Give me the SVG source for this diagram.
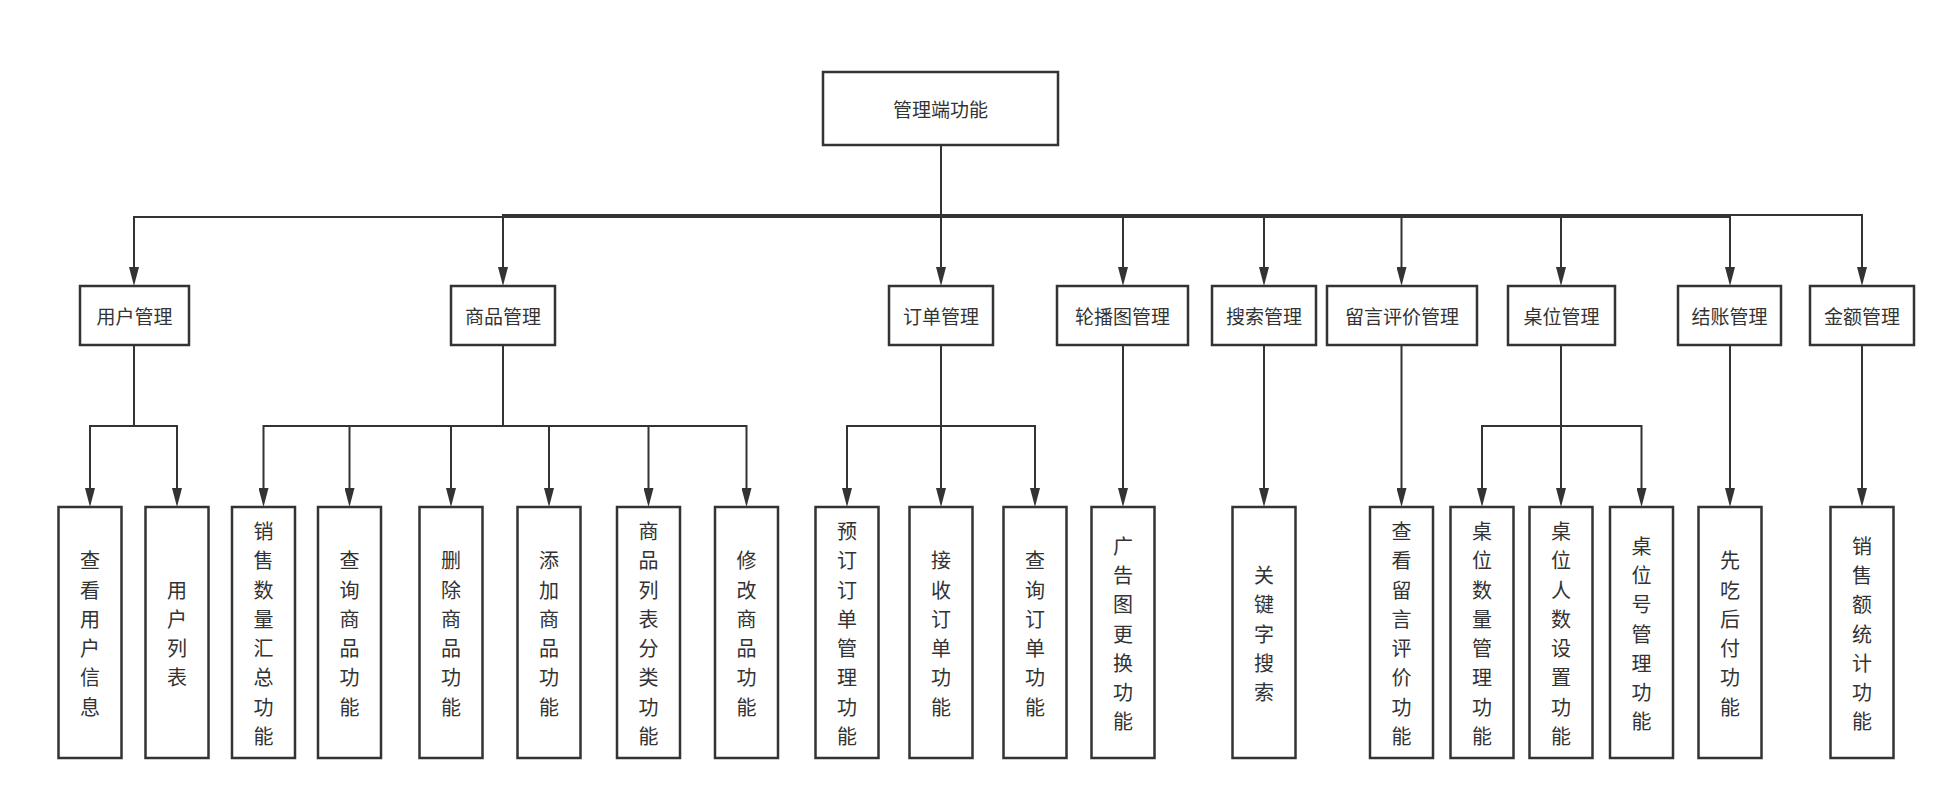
<svg xmlns="http://www.w3.org/2000/svg" width="1952" height="804" viewBox="0 0 1952 804">
<style>
.box{fill:#fff;stroke:#333;stroke-width:2.5}
.t{font-family:"Noto Sans CJK SC","Noto Sans",sans-serif;font-size:19px;fill:#333;text-anchor:middle;dominant-baseline:central}
.v{font-family:"Noto Sans CJK SC","Noto Sans",sans-serif;font-size:20px;fill:#333;text-anchor:middle;dominant-baseline:central}
.e{fill:none;stroke:#333;stroke-width:2}
</style>
<defs>
<marker id="ar" viewBox="0 0 19 10" refX="10" refY="5" markerWidth="19" markerHeight="10" markerUnits="userSpaceOnUse" orient="auto">
<path d="M0,0 L19,5 L0,10 z" fill="#333"/>
</marker>
</defs>
<rect width="1952" height="804" fill="#fff"/>
<g id="connectors" class="e" marker-end="url(#ar)">
<path class="e" marker-end="url(#ar)" d="M941,146 V217 H134 V277"/>
<path class="e" marker-end="url(#ar)" d="M941,146 V215 H503 V277"/>
<path class="e" marker-end="url(#ar)" d="M941,146 V277"/>
<path class="e" marker-end="url(#ar)" d="M941,146 V216 H1123 V277"/>
<path class="e" marker-end="url(#ar)" d="M941,146 V216 H1264 V277"/>
<path class="e" marker-end="url(#ar)" d="M941,146 V216 H1401.5 V277"/>
<path class="e" marker-end="url(#ar)" d="M941,146 V216 H1561 V277"/>
<path class="e" marker-end="url(#ar)" d="M941,146 V217 H1730 V277"/>
<path class="e" marker-end="url(#ar)" d="M941,146 V215 H1862 V277"/>
<path class="e" marker-end="url(#ar)" d="M134,345 V426 H90 V498"/>
<path class="e" marker-end="url(#ar)" d="M134,345 V426 H177 V498"/>
<path class="e" marker-end="url(#ar)" d="M503,345 V426 H263.5 V498"/>
<path class="e" marker-end="url(#ar)" d="M503,345 V426 H349.5 V498"/>
<path class="e" marker-end="url(#ar)" d="M503,345 V426 H451 V498"/>
<path class="e" marker-end="url(#ar)" d="M503,345 V426 H549 V498"/>
<path class="e" marker-end="url(#ar)" d="M503,345 V426 H648.5 V498"/>
<path class="e" marker-end="url(#ar)" d="M503,345 V426 H746.5 V498"/>
<path class="e" marker-end="url(#ar)" d="M941,345 V426 H847 V498"/>
<path class="e" marker-end="url(#ar)" d="M941,345 V498"/>
<path class="e" marker-end="url(#ar)" d="M941,345 V426 H1035 V498"/>
<path class="e" marker-end="url(#ar)" d="M1123,345 V498"/>
<path class="e" marker-end="url(#ar)" d="M1264,345 V498"/>
<path class="e" marker-end="url(#ar)" d="M1401.5,345 V498"/>
<path class="e" marker-end="url(#ar)" d="M1561,345 V426 H1482 V498"/>
<path class="e" marker-end="url(#ar)" d="M1561,345 V498"/>
<path class="e" marker-end="url(#ar)" d="M1561,345 V426 H1641.5 V498"/>
<path class="e" marker-end="url(#ar)" d="M1730,345 V498"/>
<path class="e" marker-end="url(#ar)" d="M1862,345 V498"/>
</g>
<g id="root"><rect class="box" x="823" y="72" width="235" height="73"/><text class="t" x="940.5" y="108.5">管理端功能</text></g>
<g id="n-user"><rect class="box" x="80" y="286" width="109" height="59"/><text class="t" x="134.5" y="315.5">用户管理</text></g>
<g id="n-goods"><rect class="box" x="451" y="286" width="104" height="59"/><text class="t" x="503" y="315.5">商品管理</text></g>
<g id="n-order"><rect class="box" x="889" y="286" width="104" height="59"/><text class="t" x="941" y="315.5">订单管理</text></g>
<g id="n-banner"><rect class="box" x="1057" y="286" width="131" height="59"/><text class="t" x="1122.5" y="315.5">轮播图管理</text></g>
<g id="n-search"><rect class="box" x="1212" y="286" width="104" height="59"/><text class="t" x="1264" y="315.5">搜索管理</text></g>
<g id="n-comment"><rect class="box" x="1327" y="286" width="150" height="59"/><text class="t" x="1402" y="315.5">留言评价管理</text></g>
<g id="n-table"><rect class="box" x="1508" y="286" width="107" height="59"/><text class="t" x="1561.5" y="315.5">桌位管理</text></g>
<g id="n-pay"><rect class="box" x="1678" y="286" width="103" height="59"/><text class="t" x="1729.5" y="315.5">结账管理</text></g>
<g id="n-amount"><rect class="box" x="1810" y="286" width="104" height="59"/><text class="t" x="1862" y="315.5">金额管理</text></g>

<g id="l-1"><rect class="box" x="58.5" y="507" width="63" height="251"/><text class="v"><tspan x="90" y="559.25">查</tspan><tspan x="90" dy="29.3">看</tspan><tspan x="90" dy="29.3">用</tspan><tspan x="90" dy="29.3">户</tspan><tspan x="90" dy="29.3">信</tspan><tspan x="90" dy="29.3">息</tspan></text></g>
<g id="l-2"><rect class="box" x="145.5" y="507" width="63" height="251"/><text class="v"><tspan x="177" y="588.55">用</tspan><tspan x="177" dy="29.3">户</tspan><tspan x="177" dy="29.3">列</tspan><tspan x="177" dy="29.3">表</tspan></text></g>
<g id="l-3"><rect class="box" x="232" y="507" width="63" height="251"/><text class="v"><tspan x="263.5" y="529.95">销</tspan><tspan x="263.5" dy="29.3">售</tspan><tspan x="263.5" dy="29.3">数</tspan><tspan x="263.5" dy="29.3">量</tspan><tspan x="263.5" dy="29.3">汇</tspan><tspan x="263.5" dy="29.3">总</tspan><tspan x="263.5" dy="29.3">功</tspan><tspan x="263.5" dy="29.3">能</tspan></text></g>
<g id="l-4"><rect class="box" x="318" y="507" width="63" height="251"/><text class="v"><tspan x="349.5" y="559.25">查</tspan><tspan x="349.5" dy="29.3">询</tspan><tspan x="349.5" dy="29.3">商</tspan><tspan x="349.5" dy="29.3">品</tspan><tspan x="349.5" dy="29.3">功</tspan><tspan x="349.5" dy="29.3">能</tspan></text></g>
<g id="l-5"><rect class="box" x="419.5" y="507" width="63" height="251"/><text class="v"><tspan x="451" y="559.25">删</tspan><tspan x="451" dy="29.3">除</tspan><tspan x="451" dy="29.3">商</tspan><tspan x="451" dy="29.3">品</tspan><tspan x="451" dy="29.3">功</tspan><tspan x="451" dy="29.3">能</tspan></text></g>
<g id="l-6"><rect class="box" x="517.5" y="507" width="63" height="251"/><text class="v"><tspan x="549" y="559.25">添</tspan><tspan x="549" dy="29.3">加</tspan><tspan x="549" dy="29.3">商</tspan><tspan x="549" dy="29.3">品</tspan><tspan x="549" dy="29.3">功</tspan><tspan x="549" dy="29.3">能</tspan></text></g>
<g id="l-7"><rect class="box" x="617" y="507" width="63" height="251"/><text class="v"><tspan x="648.5" y="529.95">商</tspan><tspan x="648.5" dy="29.3">品</tspan><tspan x="648.5" dy="29.3">列</tspan><tspan x="648.5" dy="29.3">表</tspan><tspan x="648.5" dy="29.3">分</tspan><tspan x="648.5" dy="29.3">类</tspan><tspan x="648.5" dy="29.3">功</tspan><tspan x="648.5" dy="29.3">能</tspan></text></g>
<g id="l-8"><rect class="box" x="715" y="507" width="63" height="251"/><text class="v"><tspan x="746.5" y="559.25">修</tspan><tspan x="746.5" dy="29.3">改</tspan><tspan x="746.5" dy="29.3">商</tspan><tspan x="746.5" dy="29.3">品</tspan><tspan x="746.5" dy="29.3">功</tspan><tspan x="746.5" dy="29.3">能</tspan></text></g>
<g id="l-9"><rect class="box" x="815.5" y="507" width="63" height="251"/><text class="v"><tspan x="847" y="529.95">预</tspan><tspan x="847" dy="29.3">订</tspan><tspan x="847" dy="29.3">订</tspan><tspan x="847" dy="29.3">单</tspan><tspan x="847" dy="29.3">管</tspan><tspan x="847" dy="29.3">理</tspan><tspan x="847" dy="29.3">功</tspan><tspan x="847" dy="29.3">能</tspan></text></g>
<g id="l-10"><rect class="box" x="909.5" y="507" width="63" height="251"/><text class="v"><tspan x="941" y="559.25">接</tspan><tspan x="941" dy="29.3">收</tspan><tspan x="941" dy="29.3">订</tspan><tspan x="941" dy="29.3">单</tspan><tspan x="941" dy="29.3">功</tspan><tspan x="941" dy="29.3">能</tspan></text></g>
<g id="l-11"><rect class="box" x="1003.5" y="507" width="63" height="251"/><text class="v"><tspan x="1035" y="559.25">查</tspan><tspan x="1035" dy="29.3">询</tspan><tspan x="1035" dy="29.3">订</tspan><tspan x="1035" dy="29.3">单</tspan><tspan x="1035" dy="29.3">功</tspan><tspan x="1035" dy="29.3">能</tspan></text></g>
<g id="l-12"><rect class="box" x="1091.5" y="507" width="63" height="251"/><text class="v"><tspan x="1123" y="544.6">广</tspan><tspan x="1123" dy="29.3">告</tspan><tspan x="1123" dy="29.3">图</tspan><tspan x="1123" dy="29.3">更</tspan><tspan x="1123" dy="29.3">换</tspan><tspan x="1123" dy="29.3">功</tspan><tspan x="1123" dy="29.3">能</tspan></text></g>
<g id="l-13"><rect class="box" x="1232.5" y="507" width="63" height="251"/><text class="v"><tspan x="1264" y="573.9">关</tspan><tspan x="1264" dy="29.3">键</tspan><tspan x="1264" dy="29.3">字</tspan><tspan x="1264" dy="29.3">搜</tspan><tspan x="1264" dy="29.3">索</tspan></text></g>
<g id="l-14"><rect class="box" x="1370" y="507" width="63" height="251"/><text class="v"><tspan x="1401.5" y="529.95">查</tspan><tspan x="1401.5" dy="29.3">看</tspan><tspan x="1401.5" dy="29.3">留</tspan><tspan x="1401.5" dy="29.3">言</tspan><tspan x="1401.5" dy="29.3">评</tspan><tspan x="1401.5" dy="29.3">价</tspan><tspan x="1401.5" dy="29.3">功</tspan><tspan x="1401.5" dy="29.3">能</tspan></text></g>
<g id="l-15"><rect class="box" x="1450.5" y="507" width="63" height="251"/><text class="v"><tspan x="1482" y="529.95">桌</tspan><tspan x="1482" dy="29.3">位</tspan><tspan x="1482" dy="29.3">数</tspan><tspan x="1482" dy="29.3">量</tspan><tspan x="1482" dy="29.3">管</tspan><tspan x="1482" dy="29.3">理</tspan><tspan x="1482" dy="29.3">功</tspan><tspan x="1482" dy="29.3">能</tspan></text></g>
<g id="l-16"><rect class="box" x="1529.5" y="507" width="63" height="251"/><text class="v"><tspan x="1561" y="529.95">桌</tspan><tspan x="1561" dy="29.3">位</tspan><tspan x="1561" dy="29.3">人</tspan><tspan x="1561" dy="29.3">数</tspan><tspan x="1561" dy="29.3">设</tspan><tspan x="1561" dy="29.3">置</tspan><tspan x="1561" dy="29.3">功</tspan><tspan x="1561" dy="29.3">能</tspan></text></g>
<g id="l-17"><rect class="box" x="1610" y="507" width="63" height="251"/><text class="v"><tspan x="1641.5" y="544.6">桌</tspan><tspan x="1641.5" dy="29.3">位</tspan><tspan x="1641.5" dy="29.3">号</tspan><tspan x="1641.5" dy="29.3">管</tspan><tspan x="1641.5" dy="29.3">理</tspan><tspan x="1641.5" dy="29.3">功</tspan><tspan x="1641.5" dy="29.3">能</tspan></text></g>
<g id="l-18"><rect class="box" x="1698.5" y="507" width="63" height="251"/><text class="v"><tspan x="1730" y="559.25">先</tspan><tspan x="1730" dy="29.3">吃</tspan><tspan x="1730" dy="29.3">后</tspan><tspan x="1730" dy="29.3">付</tspan><tspan x="1730" dy="29.3">功</tspan><tspan x="1730" dy="29.3">能</tspan></text></g>
<g id="l-19"><rect class="box" x="1830.5" y="507" width="63" height="251"/><text class="v"><tspan x="1862" y="544.6">销</tspan><tspan x="1862" dy="29.3">售</tspan><tspan x="1862" dy="29.3">额</tspan><tspan x="1862" dy="29.3">统</tspan><tspan x="1862" dy="29.3">计</tspan><tspan x="1862" dy="29.3">功</tspan><tspan x="1862" dy="29.3">能</tspan></text></g>
</svg>
